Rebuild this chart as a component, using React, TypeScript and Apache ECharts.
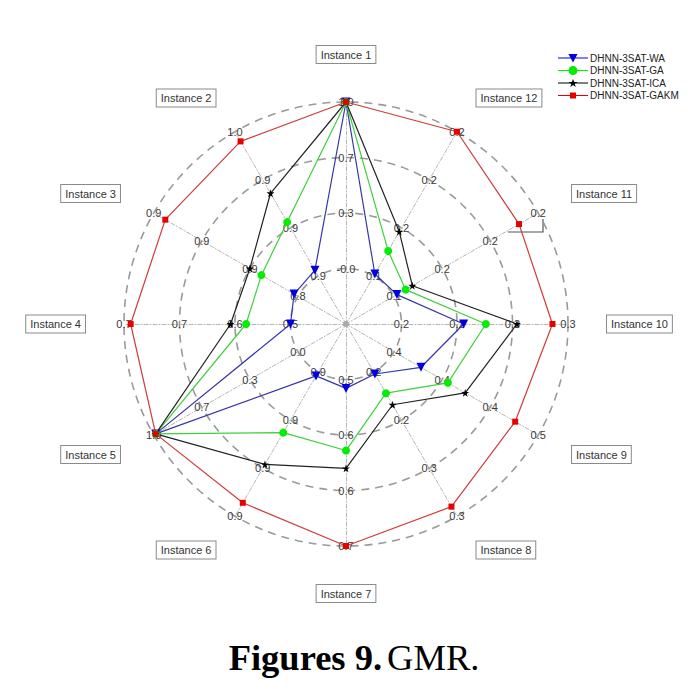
import React, { useEffect, useRef } from "react";
import * as echarts from "echarts";

const CX = 346;
const CY = 324;
const R = 222;

const instances = [
  "Instance 1", "Instance 2", "Instance 3", "Instance 4", "Instance 5", "Instance 6",
  "Instance 7", "Instance 8", "Instance 9", "Instance 10", "Instance 11", "Instance 12",
];

// tick labels at rings 1..4 for each instance axis
const tickLabels: string[][] = [
  ["-0.0", "0.3", "0.7", "1.0"],
  ["0.9", "0.9", "0.9", "1.0"],
  ["0.8", "0.9", "0.9", "0.9"],
  ["0.5", "0.6", "0.7", "0.7"],
  ["0.0", "0.3", "0.7", "1.0"],
  ["0.9", "0.9", "0.9", "0.9"],
  ["0.5", "0.6", "0.6", "0.7"],
  ["0.2", "0.2", "0.3", "0.3"],
  ["0.4", "0.4", "0.4", "0.5"],
  ["0.2", "0.2", "0.3", "0.3"],
  ["0.1", "0.2", "0.2", "0.2"],
  ["0.1", "0.2", "0.2", "0.2"],
];

const seriesNames = ["DHNN-3SAT-WA", "DHNN-3SAT-GA", "DHNN-3SAT-ICA", "DHNN-3SAT-GAKM"];

// normalized radial positions (fraction of the outer ring)
const wa = [1.0, 0.28, 0.27, 0.25, 0.99, 0.27, 0.29, 0.26, 0.39, 0.53, 0.265, 0.26];
const ga = [1.0, 0.53, 0.44, 0.45, 0.99, 0.565, 0.57, 0.36, 0.53, 0.63, 0.31, 0.38];
const ica = [1.0, 0.68, 0.5, 0.52, 0.99, 0.73, 0.65, 0.42, 0.62, 0.77, 0.345, 0.48];
const gakm = [1.0, 0.95, 0.94, 0.97, 0.99, 0.93, 1.0, 0.95, 0.88, 0.93, 0.9, 1.0];

const STAR = "path://M50,0 L61,35 L98,35 L68,57 L79,91 L50,70 L21,91 L32,57 L2,35 L39,35 Z";

// legend icons: line + marker, in a 30x10 box (tiny corner specks fix the bounding box)
const BOX = "M0,0L0.01,0L0,0.01Z M29.99,10L30,10L30,9.99Z ";
const LINE = "M0,4.5L30,4.5L30,5.6L0,5.6Z ";
const iconWA = "path://" + BOX + LINE + "M10.5,1L19.5,1L15,9.5Z";
const iconGA = "path://" + BOX + LINE + "M10.5,5A4.5,4.5 0 1 1 19.5,5A4.5,4.5 0 1 1 10.5,5Z";
const iconICA = "path://" + BOX + LINE + "M15,1 L16.2,4 L19.2,4 L16.8,5.9 L17.7,8.9 L15,7.1 L12.3,8.9 L13.2,5.9 L10.8,4 L13.8,4 Z";
const iconGAKM = "path://" + BOX + LINE + "M12,2L18,2L18,8L12,8Z";

export default function App() {
  const ref = useRef<HTMLDivElement>(null);
  useEffect(() => {
    if (!ref.current) return;
    const chart = echarts.init(ref.current, null, { renderer: "svg" });
    const mk = (name: string, data: number[], lineColor: string, markColor: string, symbol: string, size: number, rotate = 0) => ({
      type: "radar",
      name,
      symbol,
      symbolSize: size,
      symbolRotate: rotate,
      lineStyle: { color: lineColor, width: 1.2 },
      itemStyle: { color: markColor },
      data: [{ value: data, name }],
    });
    chart.setOption({
      animation: false,
      backgroundColor: "#fff",
      title: {
        text: "{b|Figures 9.} {n|GMR.}",
        left: 349,
        textAlign: "center",
        top: 634,
        textStyle: {
          rich: {
            b: { fontFamily: "Liberation Serif", fontWeight: "bold", fontSize: 36.5, color: "#000" },
            n: { fontFamily: "Liberation Serif", fontWeight: "normal", fontSize: 36.5, color: "#000" },
          },
        },
      },
      legend: {
        orient: "vertical",
        left: 553,
        top: 48,
        itemWidth: 30,
        itemHeight: 10,
        itemGap: 2.5,
        data: [
          { name: seriesNames[0], icon: iconWA },
          { name: seriesNames[1], icon: iconGA },
          { name: seriesNames[2], icon: iconICA },
          { name: seriesNames[3], icon: iconGAKM },
        ],
        textStyle: { fontSize: 10, fontFamily: "Liberation Sans", color: "#222", padding: [0, 0, 0, -3] },
      },
      radar: {
        center: [CX, CY],
        radius: R,
        startAngle: 90,
        shape: "circle",
        splitNumber: 4,
        nameGap: 39,
        indicator: instances.map((name, i) => ({
          name,
          min: 0,
          max: 1,
          axisLabel: {
            formatter: (v: number) => {
              const k = Math.round(v * 4);
              return k === 0 ? "" : tickLabels[i][k - 1];
            },
          },
        })),
        axisName: {
          color: "#333",
          fontSize: 11,
          fontFamily: "Liberation Sans",
          borderColor: "#8a8a8a",
          borderWidth: 1,
          padding: [3, 4],
          backgroundColor: "#fff",
        },
        splitLine: { lineStyle: { color: "#9a9a9a", type: [8, 6], width: 1.6 } },
        splitArea: { show: false },
        axisLine: { lineStyle: { color: "#b5b5b5", type: [4, 2, 1, 2], width: 1 } },
        axisTick: { show: false },
        axisLabel: {
          show: true,
          margin: 0,
          align: "center",
          verticalAlign: "middle",
          fontSize: 11,
          fontFamily: "Liberation Sans",
          color: "#3a3a3a",
          showMinLabel: true,
          showMaxLabel: true,
        },
      },
      graphic: [
        { type: "circle", shape: { cx: CX, cy: CY, r: 3 }, style: { fill: "#aaa" }, z: 1 },
        {
          type: "polyline",
          shape: { points: [[508, 232], [543, 232], [543, 219]] },
          style: { stroke: "#555", lineWidth: 1.2, fill: null },
        },
      ],
      series: [
        mk(seriesNames[0], wa, "#3636a8", "#0000e0", "triangle", 9, 180),
        mk(seriesNames[1], ga, "#3fcf3f", "#00ee00", "circle", 8),
        mk(seriesNames[2], ica, "#222", "#000", STAR, 8),
        mk(seriesNames[3], gakm, "#cf3b3b", "#e80000", "rect", 6),
      ],
    });
    return () => chart.dispose();
  }, []);
  return <div ref={ref} style={{ position: "absolute", left: 0, top: 0, width: 700, height: 690 }} />;
}
